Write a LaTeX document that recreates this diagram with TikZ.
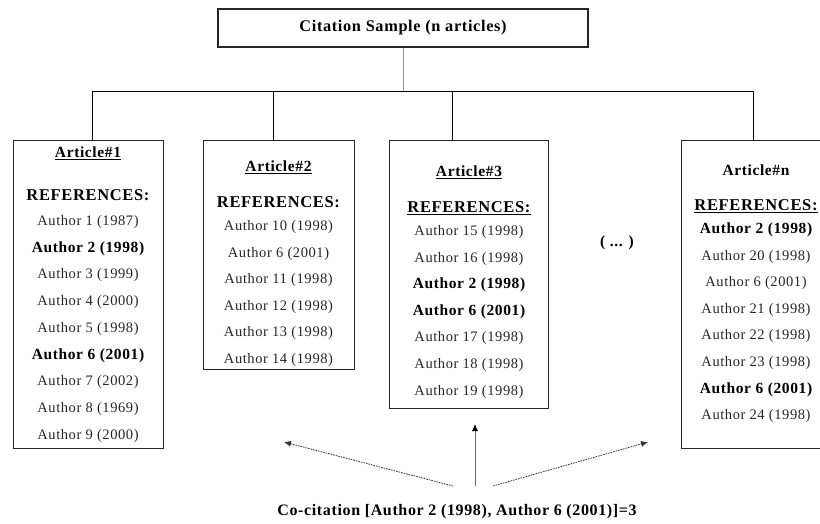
\documentclass[tikz,border=0pt]{standalone}
\usepackage{fontspec}
\setmainfont[LetterSpace=4]{Liberation Serif}
\usetikzlibrary{arrows.meta}
\tikzset{
  artbox/.style={draw=black!85, line width=1.1pt, anchor=north west, inner sep=0pt, minimum width=150pt},
  titlebox/.style={draw=black!85, line width=1.1pt, inner sep=0pt, minimum width=370pt, minimum height=38pt, font=\fontsize{16.3}{18}\selectfont\bfseries},
  tree/.style={line width=0.9pt, draw=black},
  treegray/.style={line width=0.8pt, draw=black!40},
  ent/.style={font=\fontsize{14.5}{16}\selectfont, text=black!85, inner sep=0pt},
  hd/.style={font=\fontsize{15.5}{17}\selectfont\bfseries, text=black, inner sep=0pt},
  refhd/.style={font=\fontsize{16.5}{18}\selectfont\bfseries, text=black, inner sep=0pt},
  capt/.style={font=\fontsize{16}{18}\selectfont\bfseries, text=black, inner sep=0pt},
  dotarrow/.style={dash pattern=on 1.6pt off 1pt, line width=0.8pt, draw=black!80, -{Latex[length=7pt,width=6pt]}},
  solarrow/.style={line width=0.8pt, draw=black!60, -{Latex[length=7pt,width=6pt,black]}},
}
\newcommand{\bx}[1]{{\fontsize{15.5}{17}\selectfont\bfseries\color{black}#1}}
\begin{document}
\begin{tikzpicture}[x=1pt,y=-1pt]
\useasboundingbox (0,0) rectangle (820,524);

% title
\node[titlebox] (title) at (403,28) {Citation Sample (n articles)};

% article boxes
\node[artbox, minimum height=308pt] (b1) at (13,140) {};
\node[artbox, minimum height=229pt, minimum width=151pt] (b2) at (203,140) {};
\node[artbox, minimum height=268pt, minimum width=159pt] (b3) at (389,140) {};
\node[artbox, minimum height=308pt] (bn) at (681,140) {};

% tree
\coordinate (hub) at (403,91);
\coordinate (j1) at (92,91);
\coordinate (j2) at (273,91);
\coordinate (j3) at (452,91);
\coordinate (jn) at (753,91);
\draw[treegray] (title.south) -- (hub);
\draw[tree] (j1) -- (jn);
\draw[tree] (j1) -- (j1 |- b1.north);
\draw[tree] (j2) -- (j2 |- b2.north);
\draw[tree] (j3) -- (j3 |- b3.north);
\draw[tree] (jn) -- (jn |- bn.north);

% box 1
\node[hd] (b1h) at (88,153) {\underline{Article\#1}};
\node[refhd] (b1r) at (88,195) {REFERENCES:};
\foreach \t [count=\i] in {Author 1 (1987), \bx{Author 2 (1998)}, Author 3 (1999), Author 4 (2000), Author 5 (1998), \bx{Author 6 (2001)}, Author 7 (2002), Author 8 (1969), Author 9 (2000)}
  \node[ent] (b1e\i) at (88,{222+26.7*(\i-1)}) {\t};

% box 2
\node[hd] (b2h) at (278.5,167) {\underline{Article\#2}};
\node[refhd] (b2r) at (278.5,202) {REFERENCES:};
\foreach \t [count=\i] in {Author 10 (1998), Author 6 (2001), Author 11 (1998), Author 12 (1998), Author 13 (1998), Author 14 (1998)}
  \node[ent] (b2e\i) at (278.5,{227+26.6*(\i-1)}) {\t};

% box 3
\node[hd] (b3h) at (469,172) {\underline{Article\#3}};
\node[refhd] (b3r) at (469,208) {\underline{REFERENCES:}};
\foreach \t [count=\i] in {Author 15 (1998), Author 16 (1998), \bx{Author 2 (1998)}, \bx{Author 6 (2001)}, Author 17 (1998), Author 18 (1998), Author 19 (1998)}
  \node[ent] (b3e\i) at (469,{232+26.6*(\i-1)}) {\t};

% dots
\node[hd] (dots) at (617,243) {( ... )};

% box n
\node[hd] (bnh) at (756,170) {Article\#n};
\node[refhd] (bnr) at (756,206) {\underline{REFERENCES:}};
\foreach \t [count=\i] in {\bx{Author 2 (1998)}, Author 20 (1998), Author 6 (2001), Author 21 (1998), Author 22 (1998), Author 23 (1998), \bx{Author 6 (2001)}, Author 24 (1998)}
  \node[ent] (bne\i) at (756,{230+26.6*(\i-1)}) {\t};

% caption and arrows
\node[capt] (cap) at (457,512) {Co-citation [Author 2 (1998), Author 6 (2001)]=3};
\coordinate (s1) at (453,486);
\coordinate (s2) at (475,486);
\coordinate (s3) at (493,486);
\coordinate (t1) at (284,442);
\coordinate (t2) at (475,424);
\coordinate (t3) at (648,442);
\draw[dotarrow] (s1) -- (t1);
\draw[solarrow] (s2) -- (t2);
\draw[dotarrow] (s3) -- (t3);
\end{tikzpicture}
\end{document}
